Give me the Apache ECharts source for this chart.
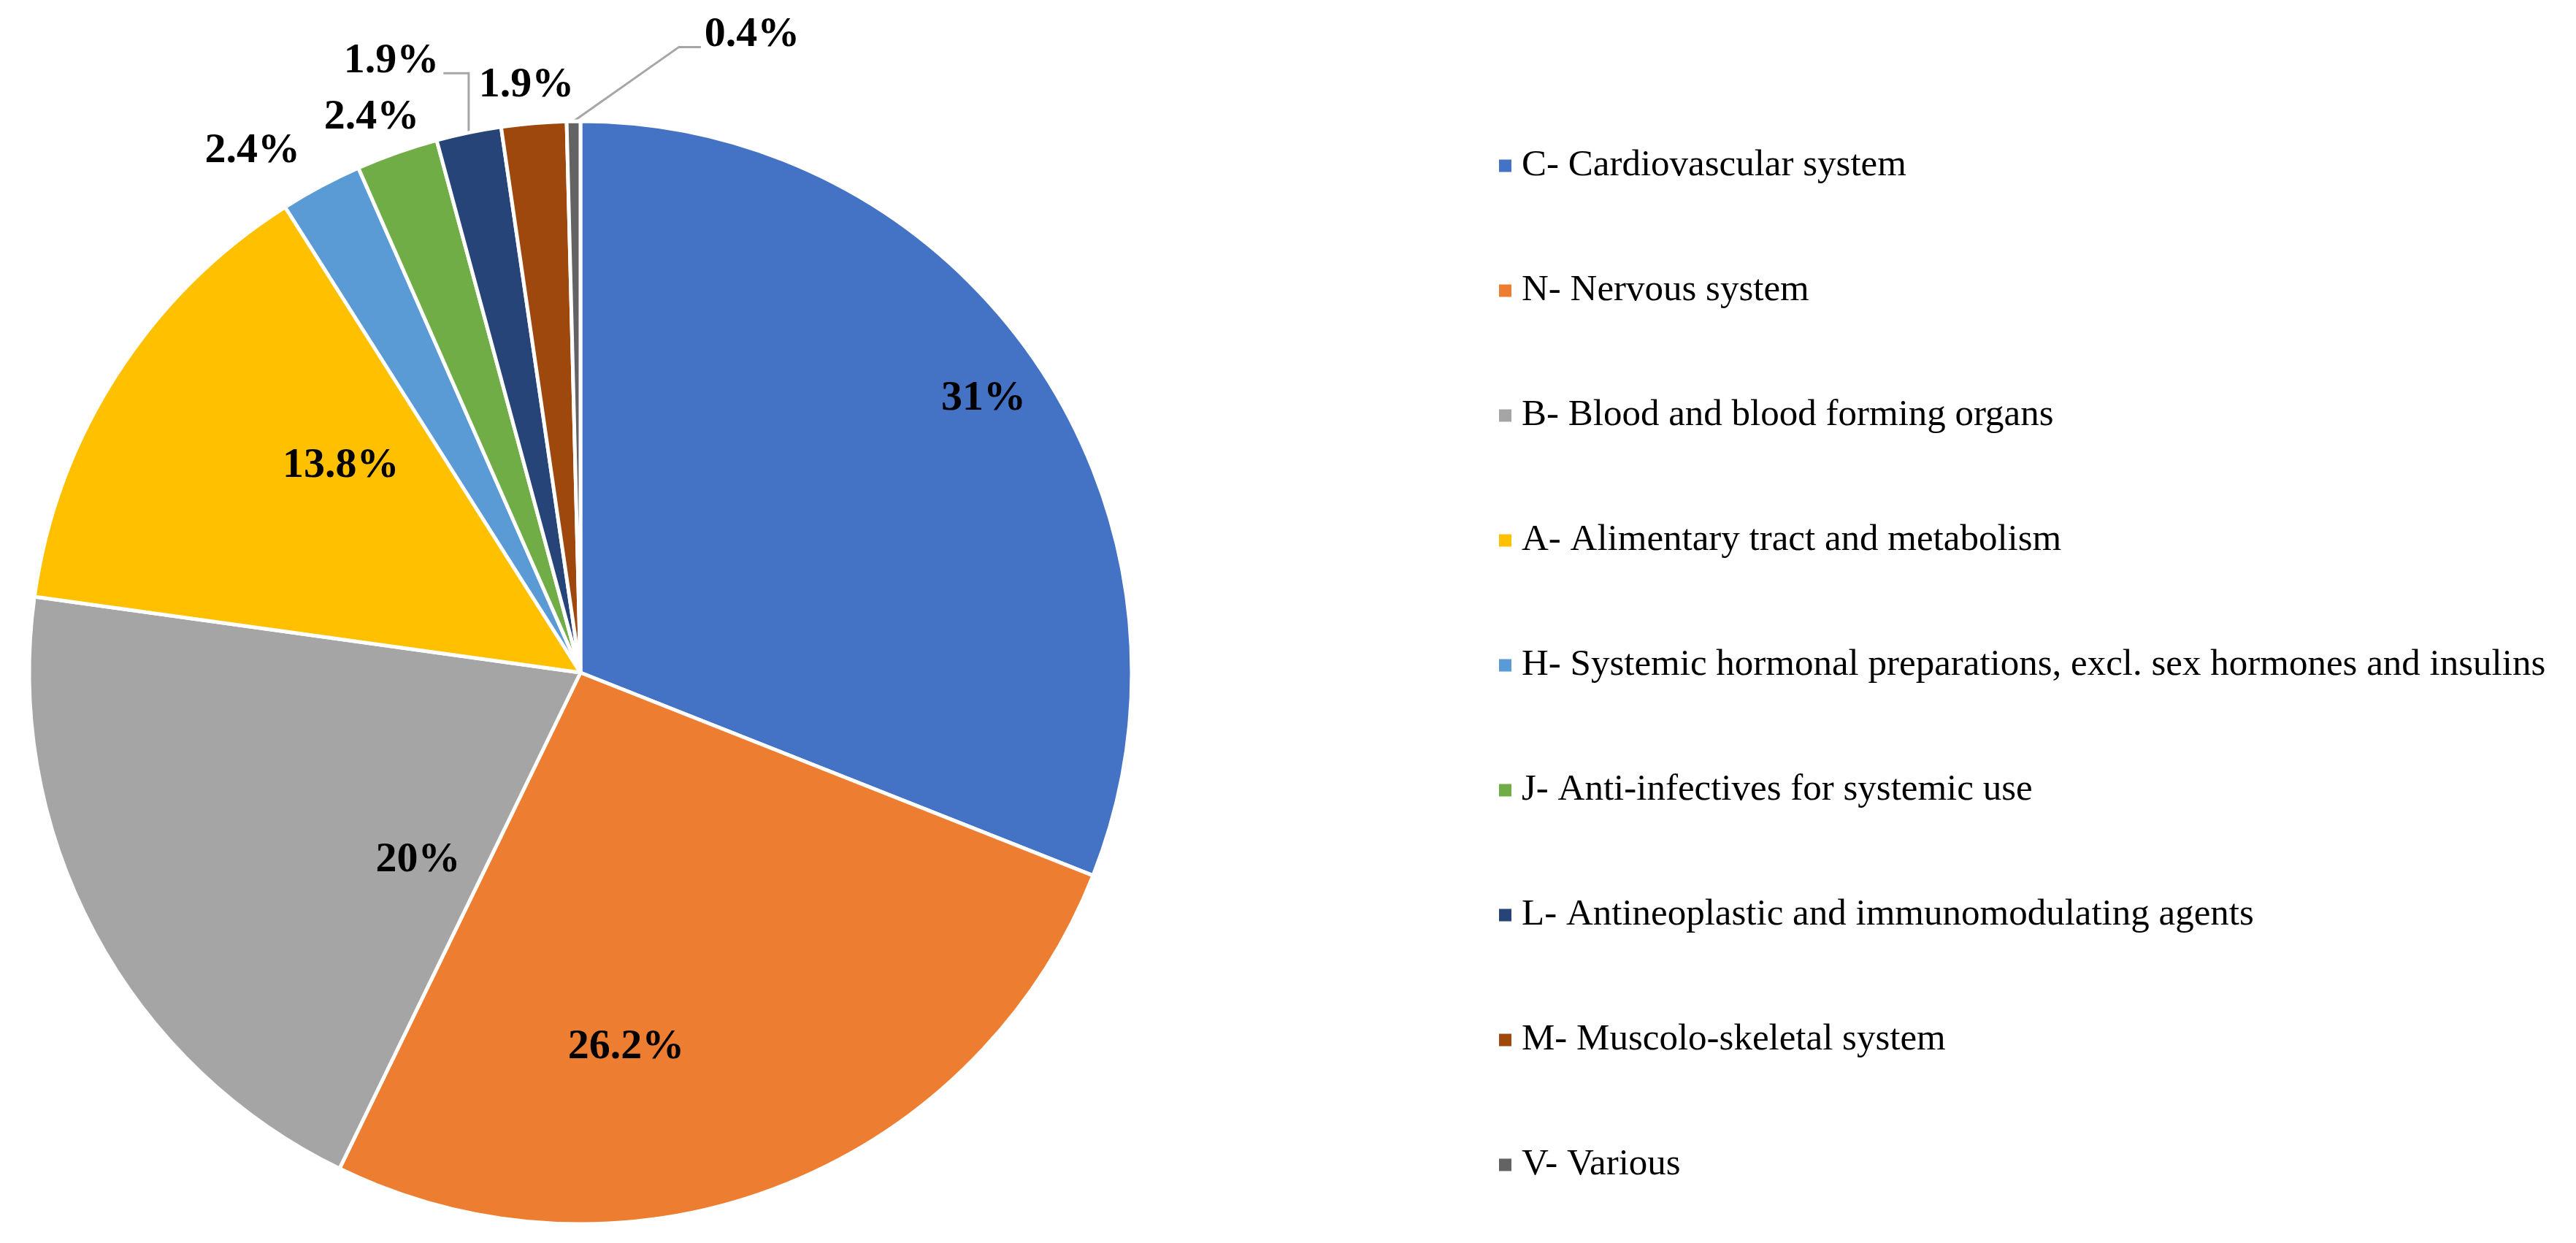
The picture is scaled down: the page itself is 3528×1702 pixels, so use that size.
<!DOCTYPE html>
<html>
<head>
<meta charset="utf-8">
<script src="https://cdn.jsdelivr.net/npm/echarts@6/dist/echarts.min.js"></script>
<style>
  html, body { margin: 0; padding: 0; background: #ffffff; }
  #chart { width: 3528px; height: 1702px; }
</style>
</head>
<body>
<div id="chart"></div>
<script>
// ---- data ----
const categories = [
  'C- Cardiovascular system',
  'N- Nervous system',
  'B- Blood and blood forming organs',
  'A- Alimentary tract and metabolism',
  'H- Systemic hormonal preparations, excl. sex hormones and insulins',
  'J- Anti-infectives for systemic use',
  'L- Antineoplastic and immunomodulating agents',
  'M- Muscolo-skeletal system',
  'V- Various'
];
const shares = [31, 26.2, 20, 13.8, 2.4, 2.4, 1.9, 1.9, 0.4];

// ---- style ----
const sliceColors = ['#4472C4', '#ED7D31', '#A5A5A5', '#FFC000', '#5B9BD5', '#70AD47', '#264478', '#9E480E', '#636363'];
// label placement: [fraction of radius, angular nudge in degrees from the slice middle]
const labelPlacement = [[0.884, 0], [0.685, 14.3], [0.45, -21], [0.574, 8], [1.117, -4.1], [1.075, -1.2], [1.16, -5.5], [1.07, -0.4], [1.197, 15.8]];
const leaderSide = [null, null, null, null, null, null, 'right', null, 'left'];

const CX = 795, CY = 921, R = 755;
const FONT = '"Liberation Serif", "Times New Roman", serif';

const total = shares.reduce((a, b) => a + b, 0);
const midAngle = [];
let acc = 0;
shares.forEach(v => { midAngle.push((acc + v / 2) / total * 360); acc += v; });

const chart = echarts.init(document.getElementById('chart'), null, { renderer: 'canvas' });
chart.setOption({
  animation: false,
  backgroundColor: '#ffffff',
  legend: {
    orient: 'vertical',
    left: 2048,
    top: 192,
    itemWidth: 17,
    itemHeight: 17,
    itemGap: 111,
    icon: 'rect',
    selectedMode: false,
    itemStyle: { borderWidth: 0 },
    textStyle: { fontFamily: FONT, fontSize: 51, color: '#000000', lineHeight: 60, padding: [0, 0, 0, 9] },
    data: categories
  },
  series: [{
    type: 'pie',
    center: [CX, CY],
    radius: R,
    startAngle: 90,
    clockwise: true,
    avoidLabelOverlap: false,
    emphasis: { disabled: true },
    itemStyle: { borderColor: '#ffffff', borderWidth: 5 },
    label: {
      show: true,
      position: 'outside',
      formatter: p => p.value + '%',
      fontFamily: FONT,
      fontSize: 58,
      fontWeight: 'bold',
      color: '#000000'
    },
    labelLine: { show: false, lineStyle: { color: '#A6A6A6', width: 3 } },
    labelLayout: function (params) {
      const i = params.dataIndex;
      const f = labelPlacement[i][0], off = labelPlacement[i][1];
      const th = (midAngle[i] + off) * Math.PI / 180;
      const x = CX + f * R * Math.sin(th);
      const y = CY - f * R * Math.cos(th);
      const res = { x: x, y: y, align: 'center', verticalAlign: 'middle' };
      const side = leaderSide[i];
      if (side) {
        const w = params.labelRect.width;
        const m = midAngle[i] * Math.PI / 180;
        const p0 = [CX + R * Math.sin(m), CY - R * Math.cos(m)];
        const ey = y + 16;
        if (side === 'right') {
          const ex = x + w / 2 + 6;
          res.labelLinePoints = [p0, [p0[0], ey], [ex, ey]];
        } else {
          const ex = x - w / 2 - 5;
          res.labelLinePoints = [p0, [ex - 30, ey], [ex, ey]];
        }
      }
      return res;
    },
    data: categories.map((name, i) => ({
      name: name,
      value: shares[i],
      itemStyle: { color: sliceColors[i] },
      labelLine: { show: !!leaderSide[i] }
    }))
  }]
});
</script>
</body>
</html>
